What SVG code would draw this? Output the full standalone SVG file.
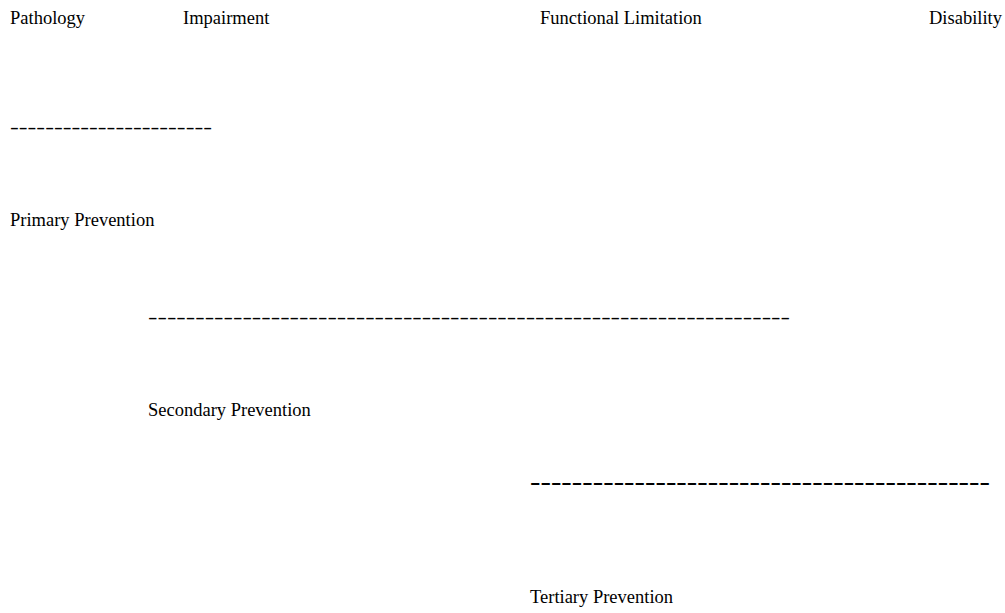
<svg xmlns="http://www.w3.org/2000/svg" width="1005" height="613" viewBox="0 0 1005 613">
<style>
  text { font-family: "Liberation Serif", "Times New Roman", serif; font-size: 18.5px; fill: #000; }
  .dash { font-size: 18px; }
  .bold { font-weight: bold; font-size: 23px; }
</style>
<rect width="1005" height="613" fill="#fff"/>
<g id="node-pathology"><text x="10" y="24">Pathology</text></g>
<g id="node-impairment"><text x="183" y="24">Impairment</text></g>
<g id="node-functional"><text x="540" y="24">Functional Limitation</text></g>
<g id="node-disability"><text x="929" y="24">Disability</text></g>
<g id="connectors">
  <text class="dash" x="10" y="133" textLength="202" lengthAdjust="spacingAndGlyphs">-----------------------</text>
  <text class="dash" x="148" y="323" textLength="642" lengthAdjust="spacingAndGlyphs">--------------------------------------------------------------------</text>
  <text class="dash bold" x="530" y="490" textLength="460" lengthAdjust="spacingAndGlyphs">--------------------------------------------</text>
</g>
<g id="node-primary"><text x="10" y="226">Primary Prevention</text></g>
<g id="node-secondary"><text x="148" y="416">Secondary Prevention</text></g>
<g id="node-tertiary"><text x="530" y="603">Tertiary Prevention</text></g>
</svg>
